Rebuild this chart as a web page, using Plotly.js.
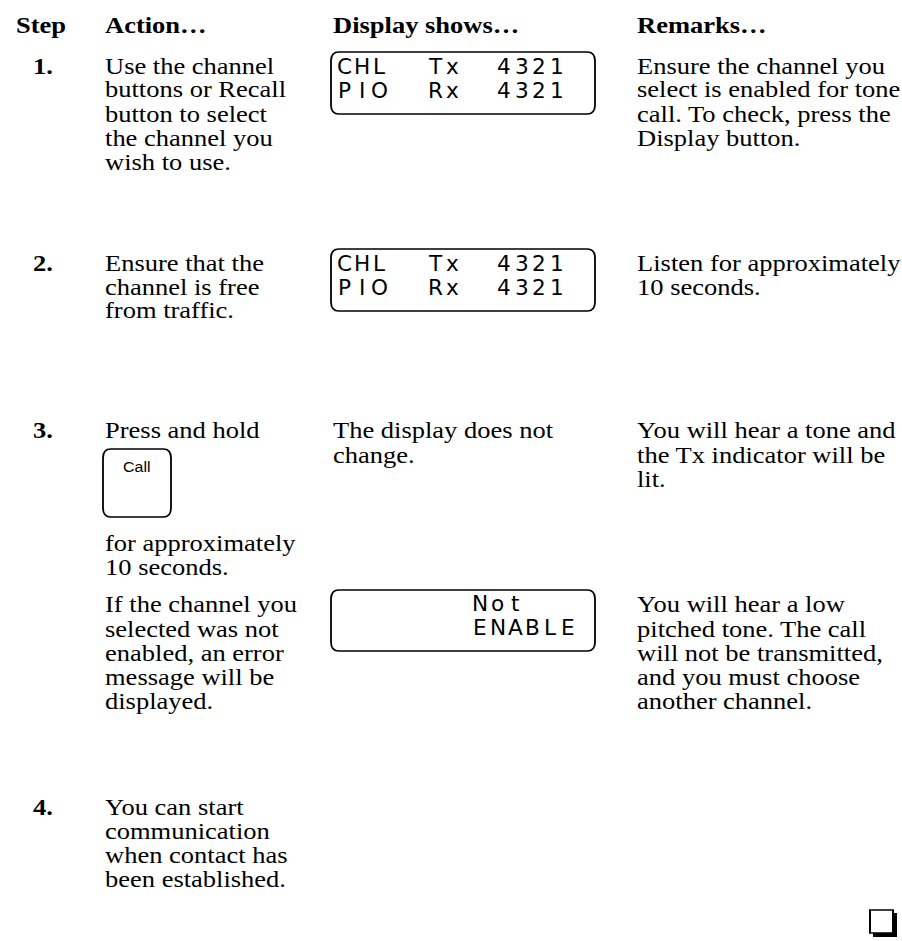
<!DOCTYPE html>
<html>
<head>
<meta charset="utf-8">
<script src="https://cdn.plot.ly/plotly-3.0.1.min.js"></script>
<style>
  html, body { margin: 0; padding: 0; background: #fff; overflow: hidden; }
  #wrap { width: 902px; height: 941px; overflow: hidden; }
  /* the scanned page is a little squeezed vertically */
  #page { width: 902px; transform: scaleY(0.87); transform-origin: 0 0; }
</style>
</head>
<body>
<div id="wrap"><div id="page"></div></div>
<script>
// table text
var headers = ['Step', 'Action\u2026', 'Display shows\u2026', 'Remarks\u2026'];
var stepNums = ['1.', '2.', '3.', '4.'];

var action1 = ['Use the channel', 'buttons or Recall', 'button to select', 'the channel you', 'wish to use.'];
var action2 = ['Ensure that the', 'channel is free', 'from traffic.'];
var action3 = ['Press and hold'];
var action3b = ['for approximately', '10 seconds.'];
var action3c = ['If the channel you', 'selected was not', 'enabled, an error', 'message will be', 'displayed.'];
var action4 = ['You can start', 'communication', 'when contact has', 'been established.'];

var display3 = ['The display does not', 'change.'];

var remarks1 = ['Ensure the channel you', 'select is enabled for tone', 'call. To check, press the', 'Display button.'];
var remarks2 = ['Listen for approximately', '10 seconds.'];
var remarks3 = ['You will hear a tone and', 'the Tx indicator will be', 'lit.'];
var remarks3c = ['You will hear a low', 'pitched tone. The call', 'will not be transmitted,', 'and you must choose', 'another channel.'];

// lcd readouts
var lcdTop = ['CHL', 'Tx', '4321'];
var lcdBottom = ['PIO', 'Rx', '4321'];
var lcdError = ['Not', 'ENABLE'];
var buttonLabel = 'Call';

// page geometry (pixels of the final picture)
var SQ = 0.87;
var W = 902, H = 941;
var PH = Math.round(H / SQ);
var LH = 24;
var FS = 26.5;
var colStep = 31, colAction = 103, colDisplay = 331, colRemarks = 635;
var rowY = [66, 263, 431, 807];
var row3bY = 543, row3cY = 605;

var serif = 'Liberation Serif';
var lcdFont = 'DejaVu Sans Condensed, DejaVu Sans, sans-serif';

var annotations = [];
var shapes = [];

function txt(x, y, s, opts) {
  opts = opts || {};
  annotations.push({
    x: x, y: y, xref: 'x', yref: 'y',
    text: opts.bold ? '<b>' + s + '</b>' : s,
    showarrow: false, xanchor: opts.anchor || 'left', yanchor: 'middle',
    font: {family: opts.family || serif, size: opts.size || FS, color: '#000'}
  });
}

function lines(x, y0, arr) {
  arr.forEach(function (s, i) { txt(x, y0 + i * LH, s); });
}

// lcd characters sit on a fixed pitch, like the segments of the panel
function lcdText(x, y, s) {
  s.split('').forEach(function (ch, i) {
    txt(x + 7 + i * 17.5, y, ch, {family: lcdFont, size: 24, anchor: 'center'});
  });
}

function roundRect(x0, y0, x1, y1, r) {
  var ry = r, rx = r * SQ;
  var p = 'M ' + (x0 + rx) + ' ' + y0 +
    ' L ' + (x1 - rx) + ' ' + y0 + ' Q ' + x1 + ' ' + y0 + ' ' + x1 + ' ' + (y0 + ry) +
    ' L ' + x1 + ' ' + (y1 - ry) + ' Q ' + x1 + ' ' + y1 + ' ' + (x1 - rx) + ' ' + y1 +
    ' L ' + (x0 + rx) + ' ' + y1 + ' Q ' + x0 + ' ' + y1 + ' ' + x0 + ' ' + (y1 - ry) +
    ' L ' + x0 + ' ' + (y0 + ry) + ' Q ' + x0 + ' ' + y0 + ' ' + (x0 + rx) + ' ' + y0 + ' Z';
  shapes.push({type: 'path', path: p, xref: 'x', yref: 'y',
    line: {color: '#000', width: 1.8}, fillcolor: 'rgba(0,0,0,0)'});
}

// header row
txt(14, 25, headers[0], {bold: true});
txt(colAction, 25, headers[1], {bold: true});
txt(colDisplay, 25, headers[2], {bold: true});
txt(colRemarks, 25, headers[3], {bold: true});

// step numbers
stepNums.forEach(function (n, i) { txt(colStep, rowY[i], n, {bold: true}); });

// action column
lines(colAction, rowY[0], action1);
lines(colAction, rowY[1], action2);
lines(colAction, rowY[2], action3);
lines(colAction, row3bY, action3b);
lines(colAction, row3cY, action3c);
lines(colAction, rowY[3], action4);

// display column
lines(colDisplay, rowY[2], display3);

// remarks column
lines(colRemarks, rowY[0], remarks1);
lines(colRemarks, rowY[1], remarks2);
lines(colRemarks, rowY[2], remarks3);
lines(colRemarks, row3cY, remarks3c);

// lcd panels
function lcd(top) {
  roundRect(colDisplay, top, 595, top + 62, 9);
  var cx = [337, 428, 497];
  lcdTop.forEach(function (s, i) { lcdText(cx[i], top + 15, s); });
  lcdBottom.forEach(function (s, i) { lcdText(cx[i], top + 39, s); });
}
lcd(52);
lcd(249);

roundRect(colDisplay, 590, 595, 651, 9);
lcdText(473, 604, lcdError[0]);
lcdText(473, 628, lcdError[1]);

// call button
roundRect(103, 449, 171, 517, 9);
txt(137, 467, buttonLabel, {family: 'Liberation Sans', size: 16, anchor: 'center'});

// end-of-procedure box with shadow
shapes.push({type: 'rect', xref: 'x', yref: 'y', x0: 873, y0: 913, x1: 897, y1: 937,
  line: {width: 0}, fillcolor: '#000'});
shapes.push({type: 'rect', xref: 'x', yref: 'y', x0: 870, y0: 910, x1: 893, y1: 933,
  line: {color: '#000', width: 2}, fillcolor: '#fff'});

var layout = {
  width: W, height: PH,
  margin: {l: 0, r: 0, t: 0, b: 0},
  paper_bgcolor: '#fff', plot_bgcolor: '#fff',
  showlegend: false,
  xaxis: {range: [0, W], visible: false, fixedrange: true},
  yaxis: {range: [PH * SQ, 0], visible: false, fixedrange: true},
  annotations: annotations,
  shapes: shapes
};

Plotly.newPlot('page', [], layout, {staticPlot: true, displayModeBar: false});
</script>
</body>
</html>
